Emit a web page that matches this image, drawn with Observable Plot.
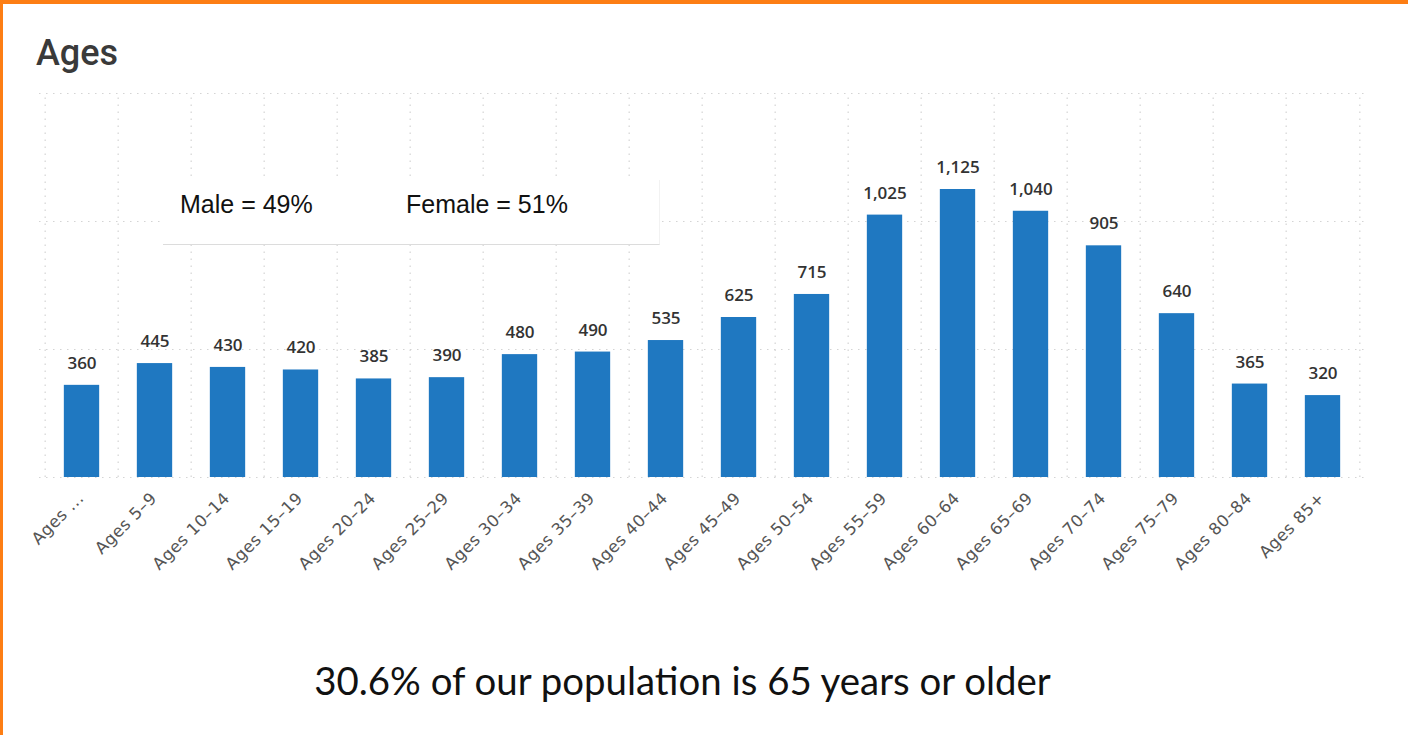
<!DOCTYPE html>
<html>
<head>
<meta charset="utf-8">
<script src="https://cdn.jsdelivr.net/npm/d3@7"></script>
<script src="https://cdn.jsdelivr.net/npm/@observablehq/plot@0.6"></script>
<style>
  html, body { margin: 0; padding: 0; background: #fff; }
  #page { position: relative; width: 1408px; height: 735px; overflow: hidden; background: #fff; }
  .border-top { position: absolute; left: 0; top: 0; width: 1408px; height: 4px; background: #fd7e14; z-index: 5; }
  .border-left { position: absolute; left: 0; top: 0; width: 3px; height: 735px; background: #fd7e14; z-index: 5; }
  #chart { position: absolute; left: 0; top: 0; }
  #chart svg g[aria-label^="x-axis"] text { letter-spacing: 0.5px; }
  .title { position: absolute; left: 36px; top: 35px; font-family: Roboto, sans-serif; font-size: 36px; line-height: 1; font-weight: 500; color: #3a3a3a; white-space: nowrap; }
  .box { position: absolute; left: 163px; top: 180px; width: 496px; height: 64px; background: #fff; border-bottom: 1px solid #dcdcdc; border-right: 1px solid #f2f2f2; }
  .box span { position: absolute; top: 12px; font-family: "Liberation Sans", Arial, sans-serif; font-size: 25px; line-height: 1; color: #111; white-space: nowrap; }
  .caption { position: absolute; left: 0; width: 1365px; top: 661px; text-align: center; font-family: Lato, sans-serif; font-size: 38.4px; line-height: 1; color: #111; white-space: nowrap; }
</style>
</head>
<body>
<div id="page">
  <div id="chart"></div>
  <div class="title">Ages</div>
  <div class="box"><span style="left:17px">Male = 49%</span><span style="left:243px">Female = 51%</span></div>
  <div class="caption">30.6% of our population is 65 years or older</div>
  <div class="border-top"></div>
  <div class="border-left"></div>
</div>
<script>
const categories = ["Ages ...", "Ages 5–9", "Ages 10–14", "Ages 15–19", "Ages 20–24", "Ages 25–29",
  "Ages 30–34", "Ages 35–39", "Ages 40–44", "Ages 45–49", "Ages 50–54", "Ages 55–59",
  "Ages 60–64", "Ages 65–69", "Ages 70–74", "Ages 75–79", "Ages 80–84", "Ages 85+"];
const values = [360, 445, 430, 420, 385, 390, 480, 490, 535, 625, 715, 1025, 1125, 1040, 905, 640, 365, 320];
const yTicks = [0, 500, 1000, 1500];

const data = categories.map((c, i) => ({age: c, value: values[i]}));

const W = 1408, H = 735, mL = 39, mR = 43, mT = 93, mB = 258;
const bw = (W - mL - mR) / categories.length;
const barW = 36;
const inset = (bw - barW) / 2;
const fmt = d3.format(",");
const gridColor = "#d4d4d4";
const dash = "1.5,5.5";
const labelFont = "'DejaVu Sans', Verdana, sans-serif";

const hasAxisMark = typeof Plot.axisX === "function";

const marks = [
  Plot.ruleY(yTicks, {stroke: gridColor, strokeDasharray: dash, strokeWidth: 1.2}),
  Plot.ruleX(categories, {x: d => d, y1: 0, y2: yTicks[yTicks.length - 1], dx: -bw / 2, stroke: gridColor, strokeDasharray: dash, strokeWidth: 1.2}),
  Plot.ruleX(categories.slice(-1), {x: d => d, y1: 0, y2: yTicks[yTicks.length - 1], dx: bw / 2, stroke: gridColor, strokeDasharray: dash, strokeWidth: 1.2}),
  Plot.barY(data, {x: "age", y: "value", fill: "#1f78c1", insetLeft: inset, insetRight: inset}),
  Plot.text(data, {x: "age", y: "value", text: d => fmt(d.value), dy: -22, fontSize: 17, fontWeight: 600, fontFamily: "'Open Sans', sans-serif", fill: "#333"})
];
if (hasAxisMark) {
  marks.push(Plot.axisX({tickRotate: -45, tickSize: 0, tickPadding: 18, dx: -1, fontSize: 16.5, fontFamily: labelFont, label: null}));
}

const chart = Plot.plot({
  width: W, height: H,
  marginLeft: mL, marginRight: mR, marginTop: mT, marginBottom: mB,
  style: {fontFamily: labelFont, fontSize: "16.5px", color: "#555", background: "transparent"},
  x: hasAxisMark
    ? {domain: categories, padding: 0, axis: null}
    : {domain: categories, padding: 0, tickRotate: -45, tickSize: 0, tickPadding: 18, label: null},
  y: {domain: [0, yTicks[yTicks.length - 1]], axis: null},
  marks
});
document.getElementById("chart").appendChild(chart);
</script>
</body>
</html>
